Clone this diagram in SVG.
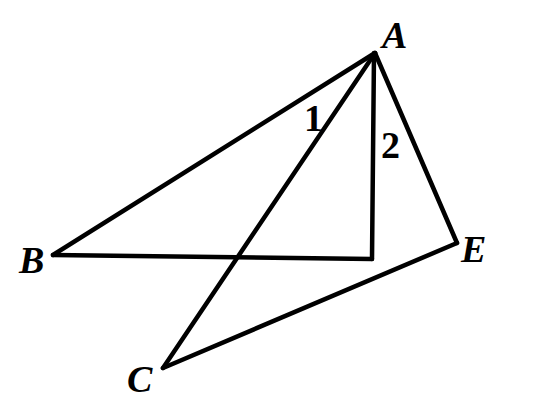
<svg xmlns="http://www.w3.org/2000/svg" width="558" height="412" viewBox="0 0 558 412">
<style>
.l{stroke:#000;stroke-width:4.5;fill:none;stroke-linecap:round;stroke-linejoin:round}
.t{font-family:"Liberation Serif",serif;font-weight:bold;font-style:italic;font-size:38px;fill:#000}
.n{font-family:"Liberation Serif",serif;font-weight:bold;font-size:38px;fill:#000}
</style>
<rect width="558" height="412" fill="#fff"/>
<g id="connectors">
<line class="l" x1="375" y1="53" x2="53" y2="255"/>
<line class="l" x1="53" y1="255" x2="372" y2="259"/>
<line class="l" x1="374" y1="53" x2="372" y2="259"/>
<line class="l" x1="375" y1="53" x2="163" y2="368"/>
<line class="l" x1="375" y1="53" x2="457" y2="243"/>
<line class="l" x1="457" y1="243" x2="163" y2="368"/>
</g>
<g id="A"><text class="t" x="382" y="48">A</text></g>
<g id="B"><text class="t" x="19" y="273">B</text></g>
<g id="C"><text class="t" x="127" y="392">C</text></g>
<g id="E"><text class="t" x="461" y="262">E</text></g>
<g id="angle1"><text class="n" x="304" y="131">1</text></g>
<g id="angle2"><text class="n" x="381" y="158">2</text></g>
</svg>
